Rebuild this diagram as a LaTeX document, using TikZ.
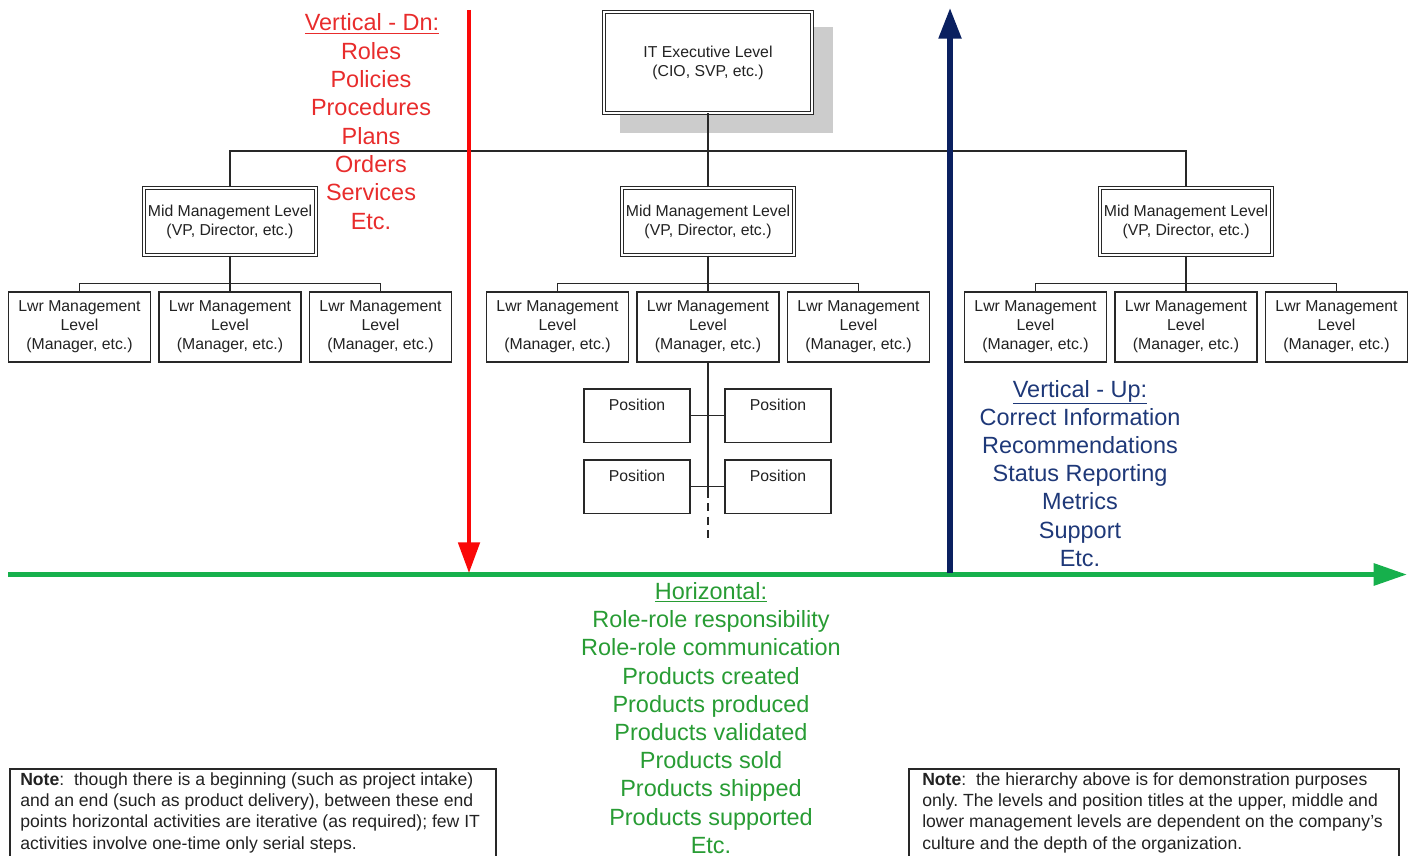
\documentclass[tikz,border=0pt]{standalone}
\usepackage{fontspec}
\setmainfont{Liberation Sans}
\usetikzlibrary{arrows.meta}
\frenchspacing

\definecolor{dnred}{RGB}{232,44,44}
\definecolor{dnarrow}{RGB}{250,8,8}
\definecolor{upblue}{RGB}{30,56,120}
\definecolor{uparrow}{RGB}{10,32,96}
\definecolor{hzgreen}{RGB}{40,156,52}
\definecolor{hzarrow}{RGB}{22,176,76}
\definecolor{shadowgray}{RGB}{204,204,204}
\definecolor{linegray}{RGB}{40,40,40}
\definecolor{boxtext}{RGB}{34,34,34}

\begin{document}
\begin{tikzpicture}[x=0.75pt,y=-0.75pt,
  smallfont/.style={font=\fontsize{11.85}{14.25}\selectfont, text=boxtext},
  bigfont/.style={font=\fontsize{17.6}{21.2}\selectfont},
  notefont/.style={font=\fontsize{13.2}{16}\selectfont, text=boxtext},
  execbox/.style={draw=linegray, double, line width=0.8pt, double distance=1.4pt,
    fill=white, minimum width=155.7pt, minimum height=75.5pt,
    align=center, inner sep=0pt, smallfont},
  midbox/.style={draw=linegray, double, line width=0.7pt, double distance=1.4pt,
    fill=white, minimum width=129.3pt, minimum height=50.4pt,
    align=center, inner sep=0pt, smallfont},
  lwrbox/.style={draw=linegray, line width=0.8pt, fill=white,
    minimum width=106.5pt, minimum height=52.5pt,
    align=center, inner sep=0pt, smallfont},
  posbox/.style={draw=linegray, line width=0.8pt, fill=white,
    minimum width=79.5pt, inner xsep=0pt, inner ysep=0pt,
    text height=16.2pt, text depth=23.6pt, smallfont},
  link/.style={draw=linegray, line width=0.8pt},
  dnlist/.style={text=dnred, bigfont, anchor=base, inner sep=0pt},
  uplist/.style={text=upblue, bigfont, anchor=base, inner sep=0pt},
  hzlist/.style={text=hzgreen, bigfont, anchor=base, inner sep=0pt},
  notebox/.style={draw=linegray, line width=0.8pt},
  notetext/.style={notefont, align=left, anchor=north west, inner sep=0pt}
]
\useasboundingbox (0,0) rectangle (1413,856);
\clip (0,0) rectangle (1413,856);

% executive level with its drop shadow
\fill[shadowgray] (620,27) rectangle (833,133);
\node[execbox] (exec) at (708,62.5) {IT Executive Level\\(CIO, SVP, etc.)};

% mid management level
\node[midbox] (midL) at (230,221.5) {Mid Management Level\\(VP, Director, etc.)};
\node[midbox] (midC) at (708,221.5) {Mid Management Level\\(VP, Director, etc.)};
\node[midbox] (midR) at (1186,221.5) {Mid Management Level\\(VP, Director, etc.)};

% lower management level
\foreach \g/\cx in {L/230, C/708, R/1186} {
  \node[lwrbox] (\g1) at (\cx-150.5,327) {Lwr Management\\Level\\(Manager, etc.)};
  \node[lwrbox] (\g2) at (\cx,327) {Lwr Management\\Level\\(Manager, etc.)};
  \node[lwrbox] (\g3) at (\cx+150.5,327) {Lwr Management\\Level\\(Manager, etc.)};
}

% positions
\node[posbox] (p1) at (637,415.5) {Position};
\node[posbox] (p2) at (778,415.5) {Position};
\node[posbox] (p3) at (637,486.5) {Position};
\node[posbox] (p4) at (778,486.5) {Position};
\coordinate (stemjoin) at (708,490);
\coordinate (stemend) at (708,542);

% reporting lines
\coordinate (bus) at (0,151);
\draw[link] (exec.south) -- (exec.south |- bus);
\draw[link] (midL.north) -- (midL.north |- bus) -- (midR.north |- bus) -- (midR.north);
\draw[link] (midC.north) -- (midC.north |- bus);
\foreach \g in {L, C, R} {
  \draw[link] (mid\g.south) -- (\g2.north);
  \draw[link] (\g1.north) -- ++(0,-8) -| (\g3.north);
}
\draw[link] (C2.south) -- (stemjoin);
\draw[link, dash pattern=on 6pt off 4pt] (stemjoin) -- (stemend);
\draw[link] (p1.east) -- (p2.west);
\draw[link] (p3.east) -- (p4.west);

% horizontal flow
\coordinate (hzstart) at (8,574.5);
\coordinate (hzend) at (1407,574.5);
\draw[hzarrow, line width=3.8pt, -{Triangle[length=25pt,width=16pt]}] (hzstart) -- (hzend);

% vertical flow down
\coordinate (dnstart) at (469,10);
\coordinate (dnend) at (469,573);
\draw[dnarrow, line width=3pt, -{Triangle[length=23pt,width=16pt]}] (dnstart) -- (dnend);

% vertical flow up
\coordinate (upstart) at (950,573);
\coordinate (upend) at (950,8);
\draw[uparrow, line width=4pt, -{Triangle[length=23pt,width=16.5pt]}] (upstart) -- (upend);

% vertical down list
\node[dnlist] (dnhead) at (372,31) {\underline{Vertical - Dn:}};
\foreach \t [count=\k] in {Roles, Policies, Procedures, Plans, Orders, Services, Etc.}
  \node[dnlist] (dn\k) at (371,{31+28.3*\k}) {\t};

% vertical up list
\node[uplist] (uphead) at (1080,397) {\underline{Vertical - Up:}};
\foreach \t [count=\k] in {Correct Information, Recommendations, Status Reporting, Metrics, Support, Etc.}
  \node[uplist] (up\k) at (1080,{397+28.2*\k}) {\t};

% horizontal list
\node[hzlist] (hzhead) at (711,599.5) {\underline{Horizontal:}};
\foreach \t [count=\k] in {Role-role responsibility, Role-role communication, Products created, Products produced, Products validated, Products sold, Products shipped, Products supported, Etc.}
  \node[hzlist] (hz\k) at (711,{599.5+28.2*\k}) {\t};

% notes
\draw[notebox] (10,769) rectangle (496,880);
\node[notetext] (noteL) at (20,772) {\textbf{Note}:\ \ though there is a beginning (such as project intake)\\
and an end (such as product delivery), between these end\\
points horizontal activities are iterative (as required); few IT\\
activities involve one-time only serial steps.};
\draw[notebox] (909,769) rectangle (1399,880);
\node[notetext] (noteR) at (922,772) {\textbf{Note}:\ \ the hierarchy above is for demonstration purposes\\
only. The levels and position titles at the upper, middle and\\
lower management levels are dependent on the company’s\\
culture and the depth of the organization.};
\end{tikzpicture}
\end{document}
